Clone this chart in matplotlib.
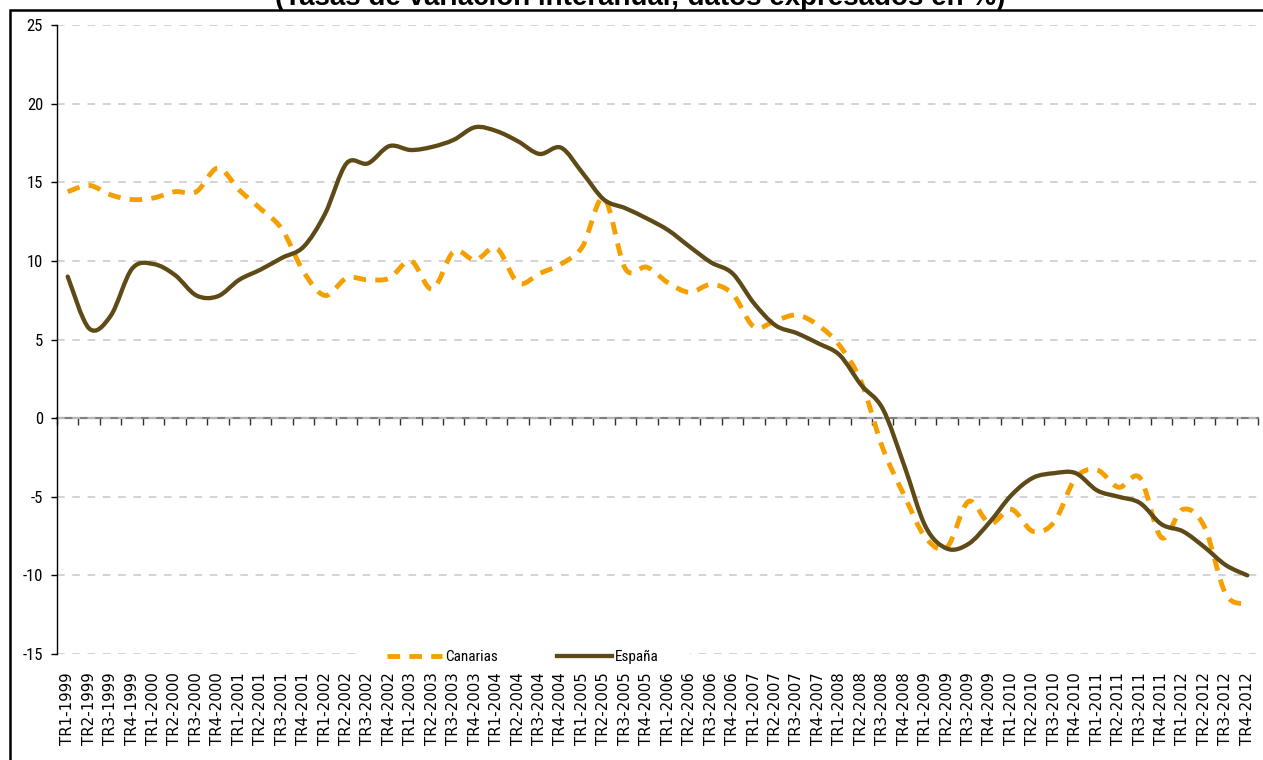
import numpy as np
import matplotlib
matplotlib.use("Agg")
import matplotlib.pyplot as plt
from matplotlib import font_manager
from matplotlib.path import Path
from matplotlib.patches import PathPatch, Rectangle
from matplotlib.lines import Line2D

# ---------- datos ----------
YEARS = list(range(1999, 2013))
QUARTERS = ["TR1", "TR2", "TR3", "TR4"]
LABELS = [f"{q}-{y}" for y in YEARS for q in QUARTERS]

CANARIAS = [14.4, 14.8, 14.2, 13.9, 14.0, 14.4, 14.4, 15.9, 14.5, 13.3,
            12.0, 9.3, 7.8, 8.9, 8.8, 8.9, 10.0, 8.2, 10.6, 10.05,
            10.8, 8.6, 9.2, 9.8, 10.9, 14.0, 9.5, 9.6, 8.6, 8.0,
            8.5, 7.9, 5.8, 6.2, 6.55, 5.9, 4.6, 2.3, -1.9, -4.9,
            -7.6, -8.2, -5.3, -6.7, -5.8, -7.2, -6.6, -3.8, -3.3, -4.4,
            -3.8, -7.6, -5.8, -6.9, -11.2, -11.8]

ESPANA = [9.0, 5.7, 6.5, 9.5, 9.8, 9.1, 7.8, 7.75, 8.8, 9.45,
          10.2, 10.9, 13.0, 16.2, 16.2, 17.3, 17.05, 17.25, 17.7, 18.5,
          18.25, 17.6, 16.8, 17.2, 15.6, 13.9, 13.35, 12.7, 11.95, 10.9,
          9.9, 9.2, 7.3, 5.9, 5.4, 4.75, 4.0, 2.1, 0.6, -3.0,
          -6.9, -8.3, -8.0, -6.6, -4.9, -3.8, -3.5, -3.5, -4.6, -5.0,
          -5.4, -6.75, -7.2, -8.2, -9.35, -10.0]

TITLE = "(Tasas de variación interanual; datos expresados en %)"

COL_CAN = "#F5A000"
COL_ESP = "#5E4A17"


def pick_font(names):
    avail = {f.name for f in font_manager.fontManager.ttflist}
    for n in names:
        if n in avail:
            return n
    return "DejaVu Sans"


NARROW = pick_font(["Liberation Sans Narrow", "Roboto Condensed", "Liberation Sans"])
ARIAL = pick_font(["Liberation Sans", "Arimo", "DejaVu Sans"])
plt.rcParams["axes.unicode_minus"] = False


def smooth_path(y):
    """Curva suavizada tipo Excel (Bezier por los puntos)."""
    y = np.asarray(y, float)
    x = np.arange(len(y), dtype=float)
    pts = np.column_stack([x, y])
    ext = np.vstack([pts[0], pts, pts[-1]])
    verts = [pts[0]]
    codes = [Path.MOVETO]
    for i in range(len(pts) - 1):
        p0, p1, p2, p3 = ext[i], ext[i + 1], ext[i + 2], ext[i + 3]
        c1 = p1 + (p2 - p0) / 6.0
        c2 = p2 - (p3 - p1) / 6.0
        verts += [c1, c2, p2]
        codes += [Path.CURVE4] * 3
    return Path(verts, codes)


W, H = 1263, 760
fig = plt.figure(figsize=(W / 100, H / 100), dpi=100)
ax = fig.add_axes([57 / W, 1 - 654 / H, 1201 / W, 629 / H])

n = len(LABELS)
ax.set_xlim(-0.5, n - 0.5)
ax.set_ylim(-15, 25)

# series
can_style = dict(color=COL_CAN, lw=3.5, linestyle=(0, (2.6, 1.9)))
esp_style = dict(color=COL_ESP, lw=3.1, linestyle="-")
ax.add_patch(PathPatch(smooth_path(CANARIAS), fill=False, capstyle="butt", zorder=3, **can_style))
ax.add_patch(PathPatch(smooth_path(ESPANA), fill=False, capstyle="round", zorder=4, **esp_style))

# eje y
ax.set_yticks(np.arange(-15, 26, 5))
ax.yaxis.grid(True, color="#C8C8C8", linestyle=(0, (5, 5)), lw=1.1)
ax.set_axisbelow(True)
ax.tick_params(axis="y", direction="out", length=4, width=1, pad=6, labelsize=12)
for t in ax.get_yticklabels():
    t.set_fontfamily(NARROW)
for s in ["top", "right", "bottom"]:
    ax.spines[s].set_visible(False)
ax.spines["left"].set_color("black")
ax.spines["left"].set_linewidth(1)

# etiquetas de categoria abajo
ax.set_xticks(np.arange(n))
ax.set_xticklabels(LABELS, rotation=90, fontsize=10.8, fontfamily="DejaVu Sans")
ax.tick_params(axis="x", length=0, pad=13)

# linea de cero con marcas entre categorias
sec = ax.secondary_xaxis(15 / 40)
sec.set_xticks(np.arange(-0.5, n, 1))
sec.set_xticklabels([])
sec.tick_params(axis="x", direction="out", length=5, width=1, color="#303030")
for s in sec.spines.values():
    s.set_color("#808080")
    s.set_linewidth(1.6)

# hueco blanco de la leyenda sobre la rejilla de -15
ax.add_patch(Rectangle((0.248, -0.02), 0.279, 0.04, transform=ax.transAxes,
                       facecolor="white", edgecolor="none", zorder=1.5, clip_on=False))

handles = [Line2D([], [], **can_style), Line2D([], [], **esp_style)]
leg = ax.legend(handles, ["Canarias", "España"], loc="center", bbox_to_anchor=(0.388, -0.005),
                ncol=2, frameon=False, handlelength=3.6, handletextpad=0.2, columnspacing=3.9,
                prop={"family": NARROW, "size": 11})

# titulo cortado arriba
fig.text(640 / W, 1 - 5 / H, TITLE, ha="center", va="baseline", fontsize=20,
         fontweight="bold", fontfamily=ARIAL)

# marco
fig.patches.append(Rectangle((10 / W, -0.1), 1.2, 1.1 - 10 / H, transform=fig.transFigure,
                             fill=False, edgecolor="black", lw=1.8))

fig.savefig("out.png", dpi=100)
